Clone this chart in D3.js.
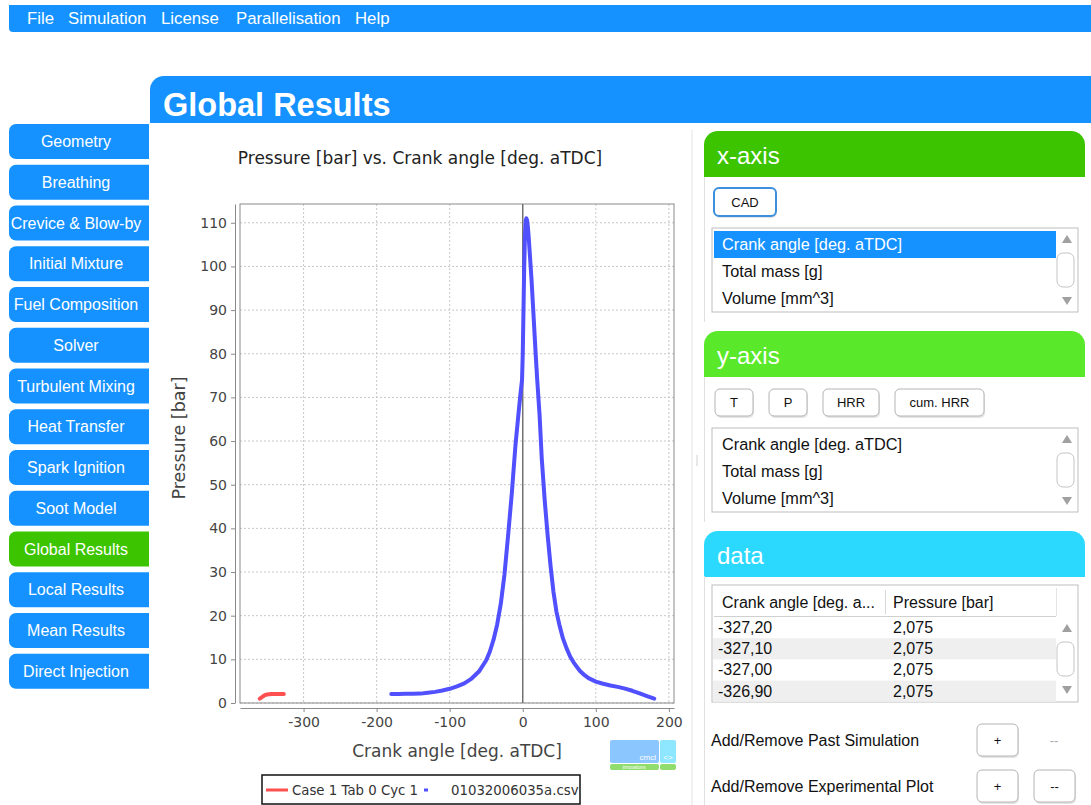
<!DOCTYPE html>
<html>
<head>
<meta charset="utf-8">
<script src="https://cdn.jsdelivr.net/npm/d3@7"></script>
<style>
  body { margin: 0; background: #fff; }
  svg { display: block; font-family: "Liberation Sans", Arial, sans-serif; }
</style>
</head>
<body>
<div id="app"></div>
<script>
// --- data ---
const menuItems = ['File', 'Simulation', 'License', 'Parallelisation', 'Help'];
const navItems = ['Geometry', 'Breathing', 'Crevice & Blow-by', 'Initial Mixture', 'Fuel Composition',
  'Solver', 'Turbulent Mixing', 'Heat Transfer', 'Spark Ignition', 'Soot Model',
  'Global Results', 'Local Results', 'Mean Results', 'Direct Injection'];
const activeNav = 'Global Results';

const chartTitle = 'Pressure [bar] vs. Crank angle [deg. aTDC]';
const xLabel = 'Crank angle [deg. aTDC]';
const yLabel = 'Pressure [bar]';
const xTicks = [-300, -200, -100, 0, 100, 200];
const yTicks = [0, 10, 20, 30, 40, 50, 60, 70, 80, 90, 100, 110];
const xDomain = [-387, 207];
const yDomain = [0, 114.3];

// simulated case (red)
const caseName = 'Case 1 Tab 0 Cyc 1';
const caseAngle = [-360, -358, -356, -354, -352, -350, -347, -344, -340, -335, -330, -327];
const casePressure = [1.0, 1.2, 1.45, 1.7, 1.85, 1.95, 2.0, 2.05, 2.07, 2.08, 2.08, 2.075];

// experimental file (blue)
const expName = '01032006035a.csv';
const expAngle = [-180, -170, -160, -150, -140, -130, -120, -110, -100, -90, -80, -70, -60, -50, -45, -40,
  -35, -30, -25, -20, -15, -10, -6, -3, -1, 0, 1, 2, 3, 4, 5, 6, 7, 8, 10, 12, 14, 16, 18, 20, 23, 26,
  30, 34, 38, 42, 46, 50, 55, 60, 65, 70, 78, 85, 90, 100, 110, 120, 130, 140, 150, 160, 170, 180];
const expPressure = [2.05, 2.05, 2.1, 2.1, 2.15, 2.35, 2.55, 2.85, 3.25, 3.8, 4.5, 5.6, 7.2, 9.8, 11.8, 14.5,
  18, 22.8, 29.5, 38.5, 48, 59, 66, 71, 74, 80, 90, 100, 107, 110.5, 111, 110.5, 109, 107, 102, 97, 91, 85, 79, 73.5, 66, 56,
  46.5, 38.5, 31.5, 25.5, 21, 18, 14.8, 12.5, 10.6, 9.2, 7.4, 6.3, 5.7, 4.9, 4.4, 4.0, 3.7, 3.3, 2.8, 2.2, 1.6, 1.0];

const axisOptions = ['Crank angle [deg. aTDC]', 'Total mass [g]', 'Volume [mm^3]'];
const xButtons = ['CAD'];
const yButtons = ['T', 'P', 'HRR', 'cum. HRR'];
const tableColumns = ['Crank angle [deg. a...', 'Pressure [bar]'];
const tableAngle = ['-327,20', '-327,10', '-327,00', '-326,90'];
const tablePressure = ['2,075', '2,075', '2,075', '2,075'];

// --- colours ---
const blue = '#1592ff';
const green = '#3cc400';
const lightGreen = '#5ae82a';
const cyan = '#2bd9ff';

const W = 1091, H = 805;
const svg = d3.select('#app').append('svg').attr('width', W).attr('height', H);

function roundRect(x, y, w, h, tl, tr, br, bl) {
  return `M${x + tl},${y} H${x + w - tr} A${tr},${tr} 0 0 1 ${x + w},${y + tr} V${y + h - br} ` +
    `A${br},${br} 0 0 1 ${x + w - br},${y + h} H${x + bl} A${bl},${bl} 0 0 1 ${x},${y + h - bl} ` +
    `V${y + tl} A${tl},${tl} 0 0 1 ${x + tl},${y} Z`;
}

// menu bar
const menuX = [27, 68, 161, 236, 355];
svg.append('path').attr('d', roundRect(9, 5, 1082, 27, 0, 0, 0, 4)).attr('fill', blue);
menuItems.forEach((m, i) => {
  svg.append('text').attr('x', menuX[i]).attr('y', 24).attr('fill', '#fff')
    .attr('font-size', 16.8).text(m);
});

// page header
svg.append('path').attr('d', roundRect(150, 76, 941, 47, 14, 0, 0, 0)).attr('fill', blue);
svg.append('text').attr('x', 163).attr('y', 116).attr('fill', '#fff')
  .attr('font-size', 32.5).attr('font-weight', 'bold').text('Global Results');

// left navigation
const nav = svg.append('g');
navItems.forEach((n, i) => {
  const y = 124 + i * 40.75;
  nav.append('path').attr('d', roundRect(9, y, 140, 35, 7, 0, 0, 7))
    .attr('fill', n === activeNav ? green : blue);
  nav.append('text').attr('x', 76).attr('y', y + 23).attr('text-anchor', 'middle')
    .attr('fill', '#fff').attr('font-size', 16).text(n);
});

// splitter
svg.append('line').attr('x1', 692).attr('x2', 692).attr('y1', 130).attr('y2', H)
  .attr('stroke', '#e2e2e2');
svg.append('line').attr('x1', 697).attr('x2', 697).attr('y1', 455).attr('y2', 466)
  .attr('stroke', '#d0d0d0');

// ---------------- chart ----------------
const plot = { left: 240, right: 674, top: 204, bottom: 703 };
const x = d3.scaleLinear().domain(xDomain).range([plot.left, plot.right]);
const y = d3.scaleLinear().domain(yDomain).range([plot.bottom, plot.top]);
const chartFont = '"DejaVu Sans", sans-serif';
const chart = svg.append('g').style('font-family', chartFont);

chart.append('text').attr('x', 420).attr('y', 164).attr('text-anchor', 'middle')
  .attr('font-size', 17).attr('fill', '#222').text(chartTitle);

// grid
chart.append('g').selectAll('line').data(yTicks).join('line')
  .attr('x1', plot.left).attr('x2', plot.right)
  .attr('y1', d => y(d)).attr('y2', d => y(d))
  .attr('stroke', '#c8c8c8').attr('stroke-dasharray', '2,2');
chart.append('g').selectAll('line').data(xTicks.filter(d => d !== 0)).join('line')
  .attr('x1', d => x(d)).attr('x2', d => x(d))
  .attr('y1', plot.top).attr('y2', plot.bottom)
  .attr('stroke', '#c8c8c8').attr('stroke-dasharray', '2,2');

// frame
chart.append('rect').attr('x', plot.left).attr('y', plot.top)
  .attr('width', plot.right - plot.left).attr('height', plot.bottom - plot.top)
  .attr('fill', 'none').attr('stroke', '#8a8a8a');

// zero marker
chart.append('line').attr('x1', x(0)).attr('x2', x(0)).attr('y1', plot.top).attr('y2', plot.bottom)
  .attr('stroke', '#6a6a6a').attr('stroke-width', 1.4);

// axes
const plain = d => String(d);
const yAxis = chart.append('g').attr('transform', `translate(${plot.left - 5},0)`)
  .call(d3.axisLeft(y).tickValues(yTicks).tickFormat(plain).tickSize(4).tickSizeOuter(0).tickPadding(4));
const xAxis = chart.append('g').attr('transform', `translate(0,${plot.bottom + 5})`)
  .call(d3.axisBottom(x).tickValues(xTicks).tickFormat(plain).tickSize(4).tickSizeOuter(0).tickPadding(5));
[yAxis, xAxis].forEach(a => {
  a.select('.domain').attr('stroke', '#8a8a8a');
  a.selectAll('.tick line').attr('stroke', '#8a8a8a');
  a.selectAll('.tick text').attr('fill', '#444').attr('font-size', 14).style('font-family', chartFont);
});

chart.append('text').attr('x', (plot.left + plot.right) / 2).attr('y', 757).attr('text-anchor', 'middle')
  .attr('font-size', 17).attr('fill', '#444').text(xLabel);
chart.append('text').attr('transform', 'rotate(-90)').attr('x', -438).attr('y', 185)
  .attr('text-anchor', 'middle').attr('font-size', 17.5).attr('fill', '#444').text(yLabel);

// series
const line = d3.line().x(d => x(d[0])).y(d => y(d[1]));
chart.append('path').datum(d3.zip(caseAngle, casePressure)).attr('d', line)
  .attr('fill', 'none').attr('stroke', '#ff5050').attr('stroke-width', 4)
  .attr('stroke-linecap', 'round').attr('stroke-linejoin', 'round');
chart.append('path').datum(d3.zip(expAngle, expPressure)).attr('d', line)
  .attr('fill', 'none').attr('stroke', '#5050ff').attr('stroke-width', 4)
  .attr('stroke-linecap', 'round').attr('stroke-linejoin', 'round');

// logo
const logo = svg.append('g');
logo.append('rect').attr('x', 610).attr('y', 740).attr('width', 49).attr('height', 23).attr('rx', 2).attr('fill', '#8cc6ff');
logo.append('rect').attr('x', 660).attr('y', 740).attr('width', 16).attr('height', 23).attr('rx', 2).attr('fill', '#8ee6ff');
logo.append('rect').attr('x', 610).attr('y', 764).attr('width', 49).attr('height', 6).attr('rx', 2).attr('fill', '#90dc6c');
logo.append('rect').attr('x', 660).attr('y', 764).attr('width', 16).attr('height', 6).attr('rx', 2).attr('fill', '#90dc6c');
logo.append('text').attr('x', 656).attr('y', 760).attr('text-anchor', 'end').attr('font-size', 8).attr('fill', '#fff').text('cmcl');
logo.append('text').attr('x', 668).attr('y', 760).attr('text-anchor', 'middle').attr('font-size', 8).attr('fill', '#fff').text('<>');
logo.append('text').attr('x', 634).attr('y', 769).attr('text-anchor', 'middle').attr('font-size', 4.5).attr('fill', '#fff').text('innovations');

// legend
const leg = svg.append('g').style('font-family', chartFont);
leg.append('rect').attr('x', 262).attr('y', 775).attr('width', 318).attr('height', 29)
  .attr('fill', '#fff').attr('stroke', '#111').attr('stroke-width', 1.5);
leg.append('line').attr('x1', 266).attr('x2', 288).attr('y1', 790).attr('y2', 790)
  .attr('stroke', '#ff5050').attr('stroke-width', 3);
leg.append('text').attr('x', 292).attr('y', 795).attr('font-size', 13.3).attr('fill', '#333').text(caseName);
leg.append('line').attr('x1', 424).attr('x2', 428).attr('y1', 790).attr('y2', 790)
  .attr('stroke', '#5050ff').attr('stroke-width', 3);
leg.append('text').attr('x', 451).attr('y', 795).attr('font-size', 13.3).attr('fill', '#333').text(expName);

// ---------------- right panel ----------------
function header(yTop, label, color) {
  svg.append('path').attr('d', roundRect(704, yTop, 381, 46, 14, 14, 0, 0)).attr('fill', color);
  svg.append('text').attr('x', 717).attr('y', yTop + 33).attr('fill', '#fff').attr('font-size', 24).text(label);
}
function button(bx, by, bw, bh, label, focused) {
  svg.append('rect').attr('x', bx + 1).attr('y', by + 2).attr('width', bw).attr('height', bh).attr('rx', 5)
    .attr('fill', '#e4e4e4');
  svg.append('rect').attr('x', bx).attr('y', by).attr('width', bw).attr('height', bh).attr('rx', 5)
    .attr('fill', '#fff').attr('stroke', focused ? '#3c8fdc' : '#b4b4b4').attr('stroke-width', focused ? 2 : 1);
  svg.append('text').attr('x', bx + bw / 2).attr('y', by + bh / 2 + 4.5).attr('text-anchor', 'middle')
    .attr('font-size', 13).attr('fill', '#111').text(label);
}
function scrollbar(top, bottom) {
  const sx = 1057;
  svg.append('path').attr('d', `M${sx + 5},${top + 15} L${sx + 10},${top + 7} L${sx + 15},${top + 15} Z`).attr('fill', '#a0a0a0');
  svg.append('path').attr('d', `M${sx + 5},${bottom - 15} L${sx + 10},${bottom - 7} L${sx + 15},${bottom - 15} Z`).attr('fill', '#a0a0a0');
  const mid = (top + bottom) / 2;
  svg.append('rect').attr('x', sx).attr('y', mid - 17).attr('width', 17).attr('height', 34).attr('rx', 6)
    .attr('fill', '#fff').attr('stroke', '#c4c4c4');
}
function listBox(top, selected) {
  svg.append('rect').attr('x', 712).attr('y', top).attr('width', 366).attr('height', 84)
    .attr('fill', '#fff').attr('stroke', '#bdbdbd');
  axisOptions.forEach((o, i) => {
    const ry = top + 3 + i * 27;
    if (o === selected) {
      svg.append('rect').attr('x', 714).attr('y', ry).attr('width', 342).attr('height', 27).attr('fill', blue);
    }
    svg.append('text').attr('x', 722).attr('y', ry + 19).attr('font-size', 16.3)
      .attr('fill', o === selected ? '#fff' : '#111').text(o);
  });
  scrollbar(top, top + 84);
}
function panelEdge(y1, y2) {
  svg.append('line').attr('x1', 704.5).attr('x2', 704.5).attr('y1', y1).attr('y2', y2).attr('stroke', '#e0e0e0');
}

header(131, 'x-axis', green);
panelEdge(177, 322);
button(714, 188, 62, 28, xButtons[0], true);
listBox(228, axisOptions[0]);

header(331, 'y-axis', lightGreen);
panelEdge(377, 522);
const yBtnX = [715, 769, 823, 895];
const yBtnW = [38, 38, 56, 89];
yButtons.forEach((b, i) => button(yBtnX[i], 389, yBtnW[i], 27, b, false));
listBox(428, null);

header(531, 'data', cyan);
panelEdge(576, H);
svg.append('rect').attr('x', 712).attr('y', 585).attr('width', 366).attr('height', 117)
  .attr('fill', '#fff').attr('stroke', '#bdbdbd');
svg.append('line').attr('x1', 714).attr('x2', 1056).attr('y1', 616.5).attr('y2', 616.5).attr('stroke', '#d0d0d0');
svg.append('line').attr('x1', 885.5).attr('x2', 885.5).attr('y1', 590).attr('y2', 614).attr('stroke', '#d8d8d8');
svg.append('line').attr('x1', 1056.5).attr('x2', 1056.5).attr('y1', 588).attr('y2', 616).attr('stroke', '#e4e4e4');
svg.append('text').attr('x', 722).attr('y', 608).attr('font-size', 16).attr('fill', '#111').text(tableColumns[0]);
svg.append('text').attr('x', 893).attr('y', 608).attr('font-size', 16).attr('fill', '#111').text(tableColumns[1]);
tableAngle.forEach((a, i) => {
  const ry = 617 + i * 21.2;
  if (i % 2 === 1) {
    svg.append('rect').attr('x', 713).attr('y', ry).attr('width', 343).attr('height', 21.2).attr('fill', '#efefef');
  }
  svg.append('text').attr('x', 718).attr('y', ry + 16).attr('font-size', 16).attr('fill', '#111').text(a);
  svg.append('text').attr('x', 893).attr('y', ry + 16).attr('font-size', 16).attr('fill', '#111').text(tablePressure[i]);
});
scrollbar(617, 701);

svg.append('text').attr('x', 711).attr('y', 746).attr('font-size', 16).attr('fill', '#111').text('Add/Remove Past Simulation');
button(977, 724, 41, 32, '+', false);
svg.append('text').attr('x', 1054).attr('y', 745).attr('text-anchor', 'middle').attr('font-size', 13).attr('fill', '#aaa').text('--');
svg.append('text').attr('x', 711).attr('y', 792).attr('font-size', 16).attr('fill', '#111').text('Add/Remove Experimental Plot');
button(977, 770, 41, 32, '+', false);
button(1034, 770, 41, 32, '--', false);
</script>
</body>
</html>
